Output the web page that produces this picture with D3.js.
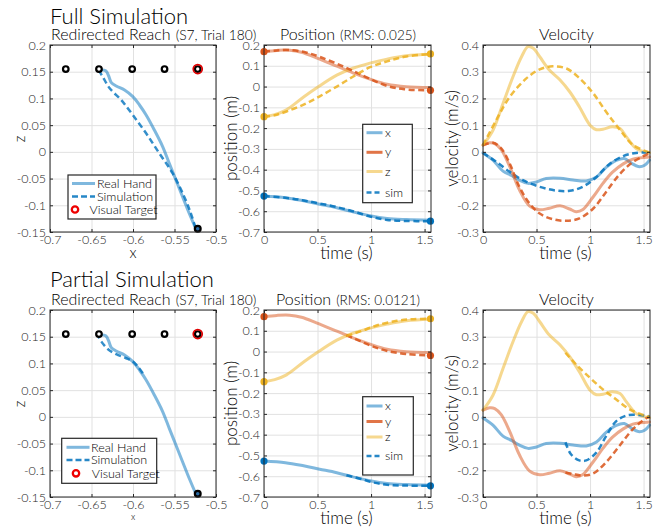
<!DOCTYPE html>
<html><head><meta charset="utf-8">
<script src="https://cdn.jsdelivr.net/npm/d3@7"></script>
<style>body{margin:0;background:#fff}svg{display:block}svg text{font-weight:300}</style>
</head><body><svg id="c" width="662" height="529"></svg>
<script>
// ---------------- DATA ----------------
const xzXTicks = [-0.7, -0.65, -0.6, -0.55, -0.5];
const xzXLabels = ["-0.7", "-0.65", "-0.6", "-0.55", "-0.5"];
const xzZTicks = [0.2, 0.15, 0.1, 0.05, 0, -0.05, -0.1, -0.15];
const xzZLabels = ["0.2", "0.15", "0.1", "0.05", "0", "-0.05", "-0.1", "-0.15"];
const timeTicks = [0, 0.5, 1, 1.5];
const timeLabels = ["0", "0.5", "1", "1.5"];
const posTicks = [0.2, 0.1, 0, -0.1, -0.2, -0.3, -0.4, -0.5, -0.6, -0.7];
const posLabels = ["0.2", "0.1", "0", "-0.1", "-0.2", "-0.3", "-0.4", "-0.5", "-0.6", "-0.7"];
const velTicks = [0.4, 0.3, 0.2, 0.1, 0, -0.1, -0.2, -0.3];
const velLabels = ["0.4", "0.3", "0.2", "0.1", "0", "-0.1", "-0.2", "-0.3"];

const targetsX = [-0.681, -0.641, -0.601, -0.562, -0.522];
const targetZ = 0.155;
const visualTarget = [-0.522, 0.155];
const startPoint = [-0.522, -0.144];

// hand path in x-z plane
const handPath = [[-0.6413,0.1532],[-0.6329,0.152],[-0.6293,0.142],[-0.6261,0.1295],[-0.6202,0.1233],[-0.6102,0.1158],[-0.6002,0.1033],[-0.5922,0.0877],[-0.5842,0.069],[-0.5743,0.041],[-0.5643,0.010],[-0.5563,-0.0215],[-0.5483,-0.0527],[-0.5403,-0.0839],[-0.5323,-0.115],[-0.5244,-0.1438]];
const simFullPath = [[-0.6413,0.1532],[-0.6361,0.1395],[-0.6281,0.119],[-0.6142,0.097],[-0.6002,0.069],[-0.5842,0.0347],[-0.5683,-0.0027],[-0.5523,-0.040],[-0.5383,-0.0839],[-0.5303,-0.115],[-0.5244,-0.1438]];
const simPartPath = [[-0.5882,0.0817],[-0.5942,0.094],[-0.6002,0.1035],[-0.6082,0.1097],[-0.6202,0.1172],[-0.6301,0.1265],[-0.6381,0.1408],[-0.6413,0.149]];

// position (real hand)
const posRealX = [[0,-0.527],[0.2,-0.535],[0.37,-0.550],[0.52,-0.566],[0.68,-0.583],[0.83,-0.603],[0.99,-0.622],[1.15,-0.635],[1.33,-0.640],[1.555,-0.643]];
const posRealY = [[0,0.168],[0.12,0.174],[0.24,0.175],[0.35,0.165],[0.49,0.138],[0.68,0.098],[0.83,0.066],[0.99,0.036],[1.15,0.011],[1.33,-0.001],[1.555,-0.005]];
const posRealZ = [[0,-0.145],[0.1,-0.135],[0.21,-0.112],[0.37,-0.050],[0.49,-0.007],[0.68,0.055],[0.83,0.088],[0.99,0.113],[1.15,0.132],[1.33,0.148],[1.555,0.155]];
// position (full simulation)
const simFullPosX = [[0,-0.527],[0.2,-0.535],[0.37,-0.548],[0.52,-0.563],[0.68,-0.580],[0.83,-0.600],[0.99,-0.625],[1.15,-0.642],[1.33,-0.647],[1.555,-0.648]];
const simFullPosY = [[0,0.168],[0.12,0.174],[0.27,0.175],[0.4,0.163],[0.52,0.143],[0.68,0.110],[0.83,0.076],[0.99,0.037],[1.15,0.003],[1.31,-0.013],[1.555,-0.018]];
const simFullPosZ = [[0,-0.145],[0.1,-0.138],[0.21,-0.120],[0.37,-0.087],[0.52,-0.047],[0.68,0.000],[0.83,0.047],[0.99,0.093],[1.15,0.121],[1.33,0.145],[1.555,0.157]];
// position (partial simulation)
const simPartPosX = [[0.77,-0.595],[0.9,-0.612],[1.02,-0.630],[1.15,-0.641],[1.33,-0.645],[1.555,-0.646]];
const simPartPosY = [[0.77,0.079],[0.9,0.050],[1.02,0.024],[1.15,0.003],[1.33,-0.012],[1.555,-0.019]];
const simPartPosZ = [[0.77,0.075],[0.9,0.097],[1.0,0.116],[1.08,0.130],[1.24,0.148],[1.4,0.156],[1.555,0.158]];

// velocity (real hand)
const velRealX = [[0,-0.004],[0.093,-0.031],[0.187,-0.072],[0.265,-0.088],[0.34,-0.106],[0.42,-0.118],[0.5,-0.113],[0.59,-0.100],[0.72,-0.099],[0.84,-0.105],[0.965,-0.109],[1.06,-0.094],[1.15,-0.058],[1.245,-0.032],[1.32,-0.025],[1.385,-0.042],[1.45,-0.055],[1.51,-0.050],[1.556,-0.031]];
const velRealY = [[0,0.025],[0.062,0.034],[0.11,0.031],[0.17,0.008],[0.25,-0.055],[0.34,-0.142],[0.436,-0.203],[0.53,-0.217],[0.62,-0.211],[0.72,-0.202],[0.81,-0.214],[0.87,-0.224],[0.93,-0.217],[1.03,-0.168],[1.12,-0.118],[1.21,-0.076],[1.31,-0.045],[1.40,-0.027],[1.556,-0.019]];
const velRealZ = [[0,0.025],[0.093,0.081],[0.187,0.181],[0.28,0.281],[0.36,0.356],[0.42,0.394],[0.47,0.388],[0.53,0.356],[0.62,0.306],[0.72,0.269],[0.81,0.225],[0.90,0.169],[1.0,0.100],[1.06,0.083],[1.12,0.085],[1.21,0.094],[1.28,0.087],[1.34,0.056],[1.43,0.013],[1.556,-0.003]];
// velocity (full simulation)
const simFullVelX = [[0,-0.004],[0.124,-0.037],[0.25,-0.075],[0.373,-0.106],[0.53,-0.131],[0.685,-0.145],[0.81,-0.146],[0.934,-0.130],[1.06,-0.094],[1.18,-0.046],[1.31,-0.016],[1.43,-0.004],[1.556,-0.003]];
const simFullVelY = [[0,0.025],[0.093,0.034],[0.17,0.013],[0.25,-0.044],[0.34,-0.131],[0.436,-0.194],[0.53,-0.231],[0.65,-0.252],[0.78,-0.258],[0.90,-0.249],[1.03,-0.212],[1.15,-0.150],[1.28,-0.082],[1.40,-0.038],[1.556,-0.005]];
const simFullVelZ = [[0,0.025],[0.124,0.119],[0.25,0.206],[0.405,0.275],[0.53,0.309],[0.65,0.320],[0.78,0.312],[0.90,0.276],[1.03,0.219],[1.15,0.150],[1.28,0.082],[1.40,0.026],[1.556,-0.003]];
// velocity (partial simulation)
const simPartVelX = [[0.77,-0.095],[0.82,-0.139],[0.90,-0.163],[0.965,-0.163],[1.06,-0.133],[1.15,-0.072],[1.245,-0.016],[1.34,0.005],[1.46,0.007],[1.556,0.002]];
const simPartVelY = [[0.77,-0.208],[0.84,-0.214],[0.93,-0.220],[1.03,-0.212],[1.15,-0.170],[1.276,-0.108],[1.40,-0.046],[1.52,-0.006],[1.556,0.0]];
const simPartVelZ = [[0.77,0.240],[0.87,0.196],[1.0,0.146],[1.12,0.103],[1.245,0.065],[1.37,0.028],[1.525,0.003],[1.556,0.0]];

const xzLegend = ["Real Hand", "Simulation", "Visual Target"];
const posLegend = ["x", "y", "z", "sim"];

// ---------------- DRAWING ----------------
const FONT = "Lato, 'Open Sans', sans-serif";
const INK = "#262626";
const COL = {x: "#0072BD", y: "#D95319", z: "#EDB120"};
const svg = d3.select("#c").style("font-family", FONT);

function makePanel(box, xdom, ydom, xT, xL, yT, yL) {
  const x = d3.scaleLinear().domain(xdom).range([box.x0, box.x1]);
  const y = d3.scaleLinear().domain(ydom).range([box.y1, box.y0]);
  const W = box.x1 - box.x0, H = box.y1 - box.y0;
  const g = svg.append("g");
  g.append("g").attr("transform", `translate(0,${box.y1})`)
    .call(d3.axisBottom(x).tickValues(xT).tickSize(-H).tickFormat(""))
    .call(a => { a.select(".domain").remove(); a.selectAll("line").attr("stroke", "#e1e1e1"); });
  g.append("g").attr("transform", `translate(${box.x0},0)`)
    .call(d3.axisLeft(y).tickValues(yT).tickSize(-W).tickFormat(""))
    .call(a => { a.select(".domain").remove(); a.selectAll("line").attr("stroke", "#e1e1e1"); });
  const data = svg.append("g");
  const top = svg.append("g");
  const style = a => { a.select(".domain").remove(); a.selectAll("line").attr("stroke", INK);
    a.selectAll("text").attr("fill", INK).style("font-size", "12.5px").style("font-family", FONT); };
  top.append("g").attr("transform", `translate(0,${box.y1})`)
    .call(d3.axisBottom(x).tickValues(xT).tickSizeInner(-3).tickSizeOuter(0).tickPadding(3).tickFormat((d, i) => xL[i])).call(style);
  top.append("g").attr("transform", `translate(0,${box.y0})`)
    .call(d3.axisTop(x).tickValues(xT).tickSizeInner(-3).tickSizeOuter(0).tickFormat("")).call(style);
  top.append("g").attr("transform", `translate(${box.x0},0)`)
    .call(d3.axisLeft(y).tickValues(yT).tickSizeInner(-3).tickSizeOuter(0).tickPadding(4).tickFormat((d, i) => yL[i])).call(style);
  top.append("g").attr("transform", `translate(${box.x1},0)`)
    .call(d3.axisRight(y).tickValues(yT).tickSizeInner(-3).tickSizeOuter(0).tickFormat("")).call(style);
  top.append("rect").attr("x", box.x0).attr("y", box.y0).attr("width", W).attr("height", H)
    .attr("fill", "none").attr("stroke", INK).attr("stroke-width", 1);
  return {x, y, data, top, box};
}

function line(p, pts, color, dashed, op) {
  const gen = d3.line().x(d => p.x(d[0])).y(d => p.y(d[1])).curve(d3.curveCatmullRom.alpha(0.5));
  const path = p.data.append("path").attr("d", gen(pts)).attr("fill", "none").attr("stroke", color)
    .attr("stroke-linejoin", "round");
  if (dashed) path.attr("stroke-width", 2.5).attr("stroke-dasharray", "6,3.5").attr("stroke-opacity", op || 0.85);
  else path.attr("stroke-width", 3).attr("stroke-opacity", op || 0.5).attr("stroke-linecap", "round");
}
function dot(p, pt, color) {
  p.data.append("circle").attr("cx", p.x(pt[0])).attr("cy", p.y(pt[1])).attr("r", 3.6).attr("fill", color);
}
function text(s, x, y, size, opts = {}) {
  const t = svg.append("text").attr("x", x).attr("y", y).style("font-size", size + "px").attr("fill", opts.fill || "#000");
  if (opts.anchor) t.attr("text-anchor", opts.anchor);
  if (opts.rotate) t.attr("transform", `rotate(-90,${x},${y})`);
  t.text(s);
  return t;
}
function title2(x, y, big, small, bigSize, smallSize, anchor) {
  const t = svg.append("text").attr("x", x).attr("y", y).attr("fill", "#000");
  if (anchor) t.attr("text-anchor", anchor);
  t.append("tspan").style("font-size", bigSize + "px").text(big);
  t.append("tspan").style("font-size", smallSize + "px").attr("dx", 5).text(small);
}

function xzPanel(box, sim, legBox) {
  const p = makePanel(box, [-0.7, -0.5], [-0.15, 0.2], xzXTicks, xzXLabels, xzZTicks, xzZLabels);
  line(p, handPath, COL.x, false, 0.5);
  line(p, sim, COL.x, true, 0.8);
  targetsX.forEach(tx => {
    p.data.append("circle").attr("cx", p.x(tx)).attr("cy", p.y(targetZ)).attr("r", 2.8)
      .attr("fill", "#fff").attr("stroke", "#000").attr("stroke-width", 2.2);
  });
  p.data.append("circle").attr("cx", p.x(visualTarget[0])).attr("cy", p.y(visualTarget[1])).attr("r", 4.5)
    .attr("fill", "none").attr("stroke", "#e00000").attr("stroke-width", 1.7);
  p.data.append("circle").attr("cx", p.x(startPoint[0])).attr("cy", p.y(startPoint[1])).attr("r", 2.9)
    .attr("fill", "#2a6aa3").attr("stroke", "#000").attr("stroke-width", 2.2);
  const L = p.top.append("g");
  L.append("rect").attr("x", legBox.x).attr("y", legBox.y).attr("width", legBox.w).attr("height", legBox.h)
    .attr("fill", "#fff").attr("stroke", INK).attr("stroke-width", 1.2);
  const rows = legBox.rows;
  L.append("line").attr("x1", legBox.lx0).attr("x2", legBox.lx1).attr("y1", rows[0]).attr("y2", rows[0])
    .attr("stroke", COL.x).attr("stroke-opacity", 0.5).attr("stroke-width", 3);
  L.append("line").attr("x1", legBox.lx0).attr("x2", legBox.lx1).attr("y1", rows[1]).attr("y2", rows[1])
    .attr("stroke", COL.x).attr("stroke-opacity", 0.85).attr("stroke-width", 2.5).attr("stroke-dasharray", "6,3");
  L.append("circle").attr("cx", legBox.mx).attr("cy", rows[2]).attr("r", 3.2).attr("fill", "none")
    .attr("stroke", "#ee0000").attr("stroke-width", 2.3);
  xzLegend.forEach((s, i) => {
    L.append("text").attr("x", i < 2 ? legBox.tx : legBox.tx2).attr("y", rows[i] + 4.3).style("font-size", "12.5px").attr("fill", "#000").text(s);
  });
  return p;
}

function posPanel(box, sims, legBox) {
  const p = makePanel(box, [0, 1.56], [-0.7, 0.2], timeTicks, timeLabels, posTicks, posLabels);
  line(p, posRealX, COL.x, false); line(p, posRealY, COL.y, false); line(p, posRealZ, COL.z, false);
  line(p, sims[0], COL.x, true); line(p, sims[1], COL.y, true); line(p, sims[2], COL.z, true);
  [[posRealX, sims[0], COL.x], [posRealY, sims[1], COL.y], [posRealZ, sims[2], COL.z]].forEach(([r, s, c]) => {
    dot(p, r[0], c); dot(p, s[s.length - 1], c);
  });
  const L = p.top.append("g");
  L.append("rect").attr("x", legBox.x).attr("y", legBox.y).attr("width", legBox.w).attr("height", legBox.h)
    .attr("fill", "#fff").attr("stroke", INK).attr("stroke-width", 1.2);
  const specs = [[COL.x, false, 0.5], [COL.y, false, 0.8], [COL.z, false, 0.5], [COL.x, true, 0.85]];
  posLegend.forEach((s, i) => {
    const yy = legBox.rows[i];
    const ln = L.append("line").attr("x1", legBox.lx0).attr("x2", legBox.lx1).attr("y1", yy).attr("y2", yy)
      .attr("stroke", specs[i][0]).attr("stroke-opacity", specs[i][2]).attr("stroke-width", specs[i][1] ? 2.5 : 3);
    if (specs[i][1]) ln.attr("stroke-dasharray", "5,3");
    L.append("text").attr("x", legBox.tx).attr("y", yy + 4).style("font-size", "12.5px").attr("fill", "#000").text(s);
  });
  return p;
}

function velPanel(box, sims) {
  const p = makePanel(box, [0, 1.56], [-0.3, 0.4], timeTicks, timeLabels, velTicks, velLabels);
  line(p, velRealX, COL.x, false); line(p, velRealY, COL.y, false); line(p, velRealZ, COL.z, false);
  line(p, sims[0], COL.x, true); line(p, sims[1], COL.y, true); line(p, sims[2], COL.z, true);
  return p;
}

// --- top row ---
text("Full Simulation", 50, 24, 22);
title2(51, 40, "Redirected Reach", "(S7, Trial 180)", 16, 13.8);
xzPanel({x0: 50, x1: 216, y0: 45, y1: 232}, simFullPath,
  {x: 68, y: 175, w: 88, h: 44, rows: [183.5, 196.5, 209.5], lx0: 72, lx1: 95, mx: 75, tx: 97, tx2: 89.5});
text("x", 133, 258, 15, {anchor: "middle"});
text("z", 25, 139, 15, {anchor: "middle", rotate: true});

title2(348, 40, "Position", "(RMS: 0.025)", 16, 13.5, "middle");
posPanel({x0: 264, x1: 431, y0: 45, y1: 232}, [simFullPosX, simFullPosY, simFullPosZ],
  {x: 362.7, y: 124.3, w: 49.6, h: 78.4, rows: [132.7, 152.3, 171.5, 192.5], lx0: 366.5, lx1: 382.5, tx: 385});
text("time (s)", 346.5, 259, 17, {anchor: "middle"});
text("position (m)", 237, 138.5, 17, {anchor: "middle", rotate: true});

text("Velocity", 566.5, 40, 16, {anchor: "middle"});
velPanel({x0: 483, x1: 650, y0: 45, y1: 232}, [simFullVelX, simFullVelY, simFullVelZ]);
text("time (s)", 565.5, 259, 17, {anchor: "middle"});
text("velocity (m/s)", 458, 138.5, 17, {anchor: "middle", rotate: true});

// --- bottom row ---
text("Partial Simulation", 50, 287, 22);
title2(51, 305, "Redirected Reach", "(S7, Trial 180)", 16, 13.8);
xzPanel({x0: 50, x1: 216, y0: 310, y1: 497}, simPartPath,
  {x: 61.7, y: 438.3, w: 95, h: 45, rows: [447.3, 460, 473.3], lx0: 66.5, lx1: 89.5, mx: 76, tx: 91, tx2: 91.7});
text("x", 133, 520, 9, {anchor: "middle"});
text("z", 25, 404, 15, {anchor: "middle", rotate: true});

title2(348, 305, "Position", "(RMS: 0.0121)", 16, 13.5, "middle");
posPanel({x0: 264, x1: 431, y0: 310, y1: 497}, [simPartPosX, simPartPosY, simPartPosZ],
  {x: 362.7, y: 396.7, w: 50.6, h: 78.3, rows: [406, 421.5, 437, 456], lx0: 366.5, lx1: 382.5, tx: 385});
text("time (s)", 346.5, 524, 17, {anchor: "middle"});
text("position (m)", 237, 403.5, 17, {anchor: "middle", rotate: true});

text("Velocity", 566.5, 305, 16, {anchor: "middle"});
velPanel({x0: 483, x1: 650, y0: 310, y1: 497}, [simPartVelX, simPartVelY, simPartVelZ]);
text("time (s)", 565.5, 524, 17, {anchor: "middle"});
text("velocity (m/s)", 458, 403.5, 17, {anchor: "middle", rotate: true});
</script></body></html>
